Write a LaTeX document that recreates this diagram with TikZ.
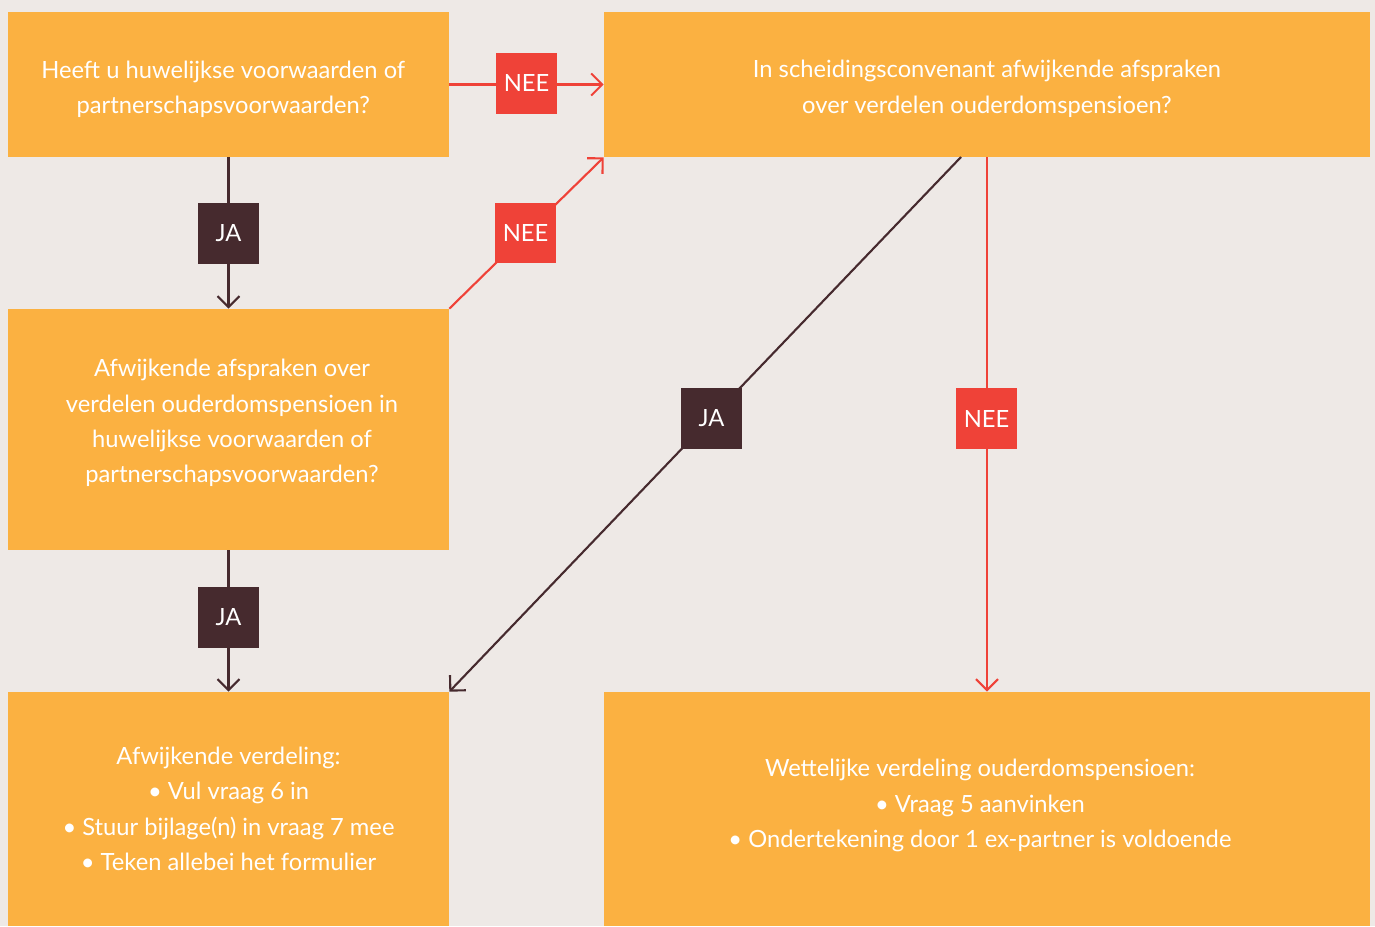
\documentclass[tikz,border=0pt]{standalone}
\usepackage{fontspec}
\setmainfont{Lato}
\usepackage{xcolor}
\usetikzlibrary{arrows.meta}
\definecolor{bgcol}{HTML}{EEE9E6}
\definecolor{boxcol}{HTML}{FBB141}
\definecolor{neecol}{HTML}{EF4238}
\definecolor{jacol}{HTML}{462A2E}
\newcommand{\flowfont}{\fontsize{13.5}{20.1}\selectfont}

\begin{document}
\begin{tikzpicture}[x=0.02cm, y=-0.02cm,
		box/.style={fill=boxcol, inner sep=0pt},
		boxtext/.style={text=white, align=center, inner sep=0pt, font=\flowfont},
		tag/.style={minimum size=1.22cm, inner sep=0pt, text=white, font=\flowfont},
		nee/.style={tag, fill=neecol},
		ja/.style={tag, fill=jacol},
		link/.style={line width=1.2pt, -{Straight Barb[length=2.2mm, width=4.4mm]}}]
		\fill[bgcol] (0,0) rectangle (1375,926);
		\useasboundingbox (0,0) rectangle (1375,926);
		% boxes
		\node[box, minimum width=8.82cm, minimum height=2.9cm,
			label={[boxtext, xshift=-3pt, yshift=-2.6pt]center:{Heeft u huwelijkse voorwaarden of\\partnerschapsvoorwaarden?}}]
			(voorwaarden) at (228.5,84.5) {};
		\node[box, minimum width=15.32cm, minimum height=2.9cm,
			label={[boxtext, yshift=-2.4pt]center:{In scheidingsconvenant afwijkende afspraken\\over verdelen ouderdomspensioen?}}]
			(convenant) at (987,84.5) {};
		\node[box, minimum width=8.82cm, minimum height=4.82cm,
			label={[boxtext, xshift=2pt, yshift=3.7pt]center:{Afwijkende afspraken over\\verdelen ouderdomspensioen in\\huwelijkse voorwaarden of\\partnerschapsvoorwaarden?}}]
			(afspraken) at (228.5,429.5) {};
		\node[box, minimum width=8.82cm, minimum height=4.68cm,
			label={[boxtext]center:{Afwijkende verdeling:\\• Vul vraag 6 in\\• Stuur bijlage(n) in vraag 7 mee\\• Teken allebei het formulier}}]
			(afwijkend) at (228.5,809) {};
		\node[box, minimum width=15.32cm, minimum height=4.68cm,
			label={[boxtext, xshift=-4pt, yshift=2pt]center:{Wettelijke verdeling ouderdomspensioen:\\• Vraag 5 aanvinken\\• Ondertekening door 1 ex-partner is voldoende}}]
			(wettelijk) at (987,809) {};
		\coordinate (splitja) at (961,157);
		% connectors
		\draw[link, neecol] (voorwaarden.east) -- (convenant.west);
		\draw[link, neecol] (afspraken.north east) -- (convenant.south west);
		\draw[link, neecol] (convenant.south) -- (wettelijk.north);
		\draw[link, jacol] (voorwaarden.south) -- (afspraken.north);
		\draw[link, jacol] (afspraken.south) -- (afwijkend.north);
		\draw[link, jacol] (splitja) -- (afwijkend.north east);
		% labels
		\node[nee] (nee1) at (526.5,83.5) {NEE};
		\node[nee] (nee2) at (525.5,233) {NEE};
		\node[nee] (nee3) at (986.5,418.5) {NEE};
		\node[ja] (ja1) at (228.5,233.5) {JA};
		\node[ja] (ja2) at (711.5,418.5) {JA};
		\node[ja] (ja3) at (228.5,617.5) {JA};
	\end{tikzpicture}
\end{document}
